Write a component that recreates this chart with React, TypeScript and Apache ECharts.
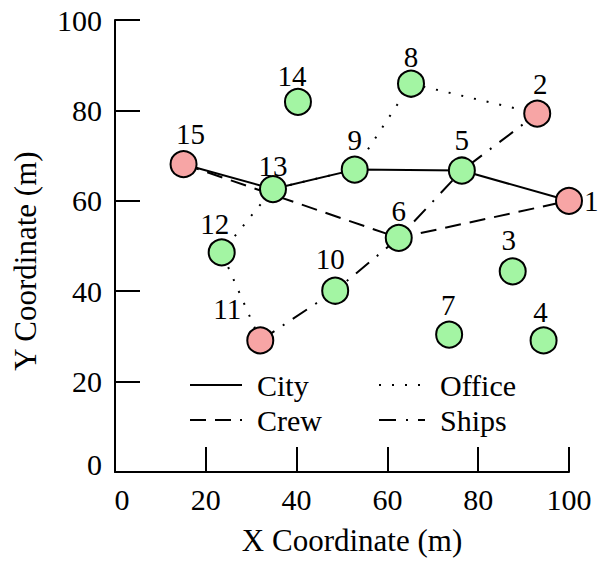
import React, { useEffect, useRef } from "react";
import * as echarts from "echarts";

// ---- data ----
const nodeIds = [1, 2, 3, 4, 5, 6, 7, 8, 9, 10, 11, 12, 13, 14, 15];
const nodeX = [100, 93, 87.6, 94.4, 76.4, 62.5, 73.6, 65.2, 52.8, 48.5, 32.0, 23.5, 34.8, 40.3, 15.1];
const nodeY = [60, 79.3, 44.4, 29.1, 66.7, 51.8, 30.4, 85.9, 66.9, 40.1, 29.1, 48.6, 62.6, 81.9, 68.1];
const depotNodes = [1, 2, 11, 15];

const routeNames = ["City", "Crew", "Office", "Ships"];
const cityRoute = [15, 13, 9, 5, 1];
const crewRoute = [15, 6, 1];
const officeRoute = [11, 12, 13, 9, 8, 2];
const shipsRoute = [11, 10, 6, 5, 2];

const axisTicks = [0, 20, 40, 60, 80, 100];

// ---- styling ----
const FONT = "Liberation Serif";
const GREEN = "#a3f5a3";
const PINK = "#f7a5a5";
const TICK_FS = 30;
const LABEL_FS = 29;

// label placement per node: [position, dx, dy]
const labelPlace: Record<number, [string, number, number]> = {
  1: ["right", -1, 0],
  2: ["top", 3, 1],
  3: ["top", -4, -1],
  4: ["top", -3, 2],
  5: ["top", 0, 0],
  6: ["top", 0, 4],
  7: ["top", -1, 1],
  8: ["top", 0, 4],
  9: ["top", 0, 1],
  10: ["top", -5, -1],
  11: ["top", -33, -1],
  12: ["top", -7, 2],
  13: ["top", 0, 7],
  14: ["top", -6, 5],
  15: ["top", 7, 0],
};

const routeDash: Record<string, any> = {
  City: "solid",
  Crew: [16, 9],
  Office: [2, 11],
  Ships: [17, 10, 2, 10],
};

const routes: Record<string, number[]> = {
  City: cityRoute,
  Crew: crewRoute,
  Office: officeRoute,
  Ships: shipsRoute,
};

function pt(id: number): [number, number] {
  const i = nodeIds.indexOf(id);
  return [nodeX[i], nodeY[i]];
}

export default function App() {
  const ref = useRef<HTMLDivElement>(null);
  useEffect(() => {
    document.body.style.margin = "0";
    if (!ref.current) return;
    const chart = echarts.init(ref.current, null, { renderer: "svg" });

    const lineSeries = routeNames.map((name) => ({
      name,
      type: "line",
      data: routes[name].map(pt),
      symbol: "none",
      z: 2,
      lineStyle: { color: "#000", width: 2, type: routeDash[name] },
      itemStyle: { color: "#000" },
    }));

    const scatterData = nodeIds.map((id, i) => {
      const [pos, dx, dy] = labelPlace[id];
      return {
        value: [nodeX[i], nodeY[i]],
        name: String(id),
        itemStyle: { color: depotNodes.includes(id) ? PINK : GREEN },
        label: { position: pos, offset: [dx, dy] },
      };
    });

    const axisCommon = {
      type: "value",
      min: axisTicks[0],
      max: axisTicks[axisTicks.length - 1],
      interval: 20,
      splitLine: { show: false },
      axisLine: { show: true, lineStyle: { color: "#000", width: 2 } },
      axisTick: { show: true, inside: true, length: 25, lineStyle: { color: "#000", width: 2 } },
      nameTextStyle: { fontFamily: FONT, fontSize: 31, color: "#000" },
    };

    chart.setOption({
      animation: false,
      grid: { left: 115, right: 30, top: 20, bottom: 87 },
      xAxis: {
        ...axisCommon,
        name: "X Coordinate (m)",
        nameLocation: "middle",
        nameGap: 53,
        nameTextStyle: { ...axisCommon.nameTextStyle, padding: [0, 0, 0, 20] },
        axisLabel: {
          fontFamily: FONT,
          fontSize: TICK_FS,
          color: "#000",
          margin: 12,
          formatter: (v: number) => (v === 0 ? "{z|0}" : String(v)),
          rich: { z: { fontFamily: FONT, fontSize: TICK_FS, color: "#000", padding: [0, 0, 0, 14] } },
        },
      },
      yAxis: {
        ...axisCommon,
        name: "Y Coordinate (m)",
        nameLocation: "middle",
        nameGap: 74,
        nameTextStyle: { ...axisCommon.nameTextStyle, padding: [0, 30, 0, 0] },
        axisLabel: {
          fontFamily: FONT,
          fontSize: TICK_FS,
          color: "#000",
          margin: 13,
          formatter: (v: number) => (v === 0 ? "{z|0}" : String(v)),
          rich: { z: { fontFamily: FONT, fontSize: TICK_FS, color: "#000", padding: [0, 0, 16, 0] } },
        },
      },
      legend: [
        {
          orient: "vertical",
          left: 189,
          top: 370,
          padding: 0,
          itemGap: 5,
          itemWidth: 52,
          itemHeight: 14,
          selectedMode: false,
          data: ["City", "Crew"],
          itemStyle: { opacity: 0 },
          textStyle: { fontFamily: FONT, fontSize: 30, color: "#000", padding: [0, 0, 0, 10] },
        },
        {
          orient: "vertical",
          left: 378,
          top: 370,
          padding: 0,
          itemGap: 5,
          itemWidth: 46,
          itemHeight: 14,
          selectedMode: false,
          data: ["Office", "Ships"],
          itemStyle: { opacity: 0 },
          textStyle: { fontFamily: FONT, fontSize: 30, color: "#000", padding: [0, 0, 0, 10] },
        },
      ],
      series: [
        ...lineSeries,
        {
          type: "scatter",
          z: 5,
          symbolSize: 26,
          itemStyle: { borderColor: "#000", borderWidth: 2, opacity: 1 },
          label: {
            show: true,
            formatter: (p: any) => p.name,
            distance: 2,
            fontFamily: FONT,
            fontSize: LABEL_FS,
            color: "#000",
          },
          data: scatterData,
        },
      ],
    } as any);
    return () => chart.dispose();
  }, []);
  return <div ref={ref} style={{ width: 599, height: 561 }} />;
}
